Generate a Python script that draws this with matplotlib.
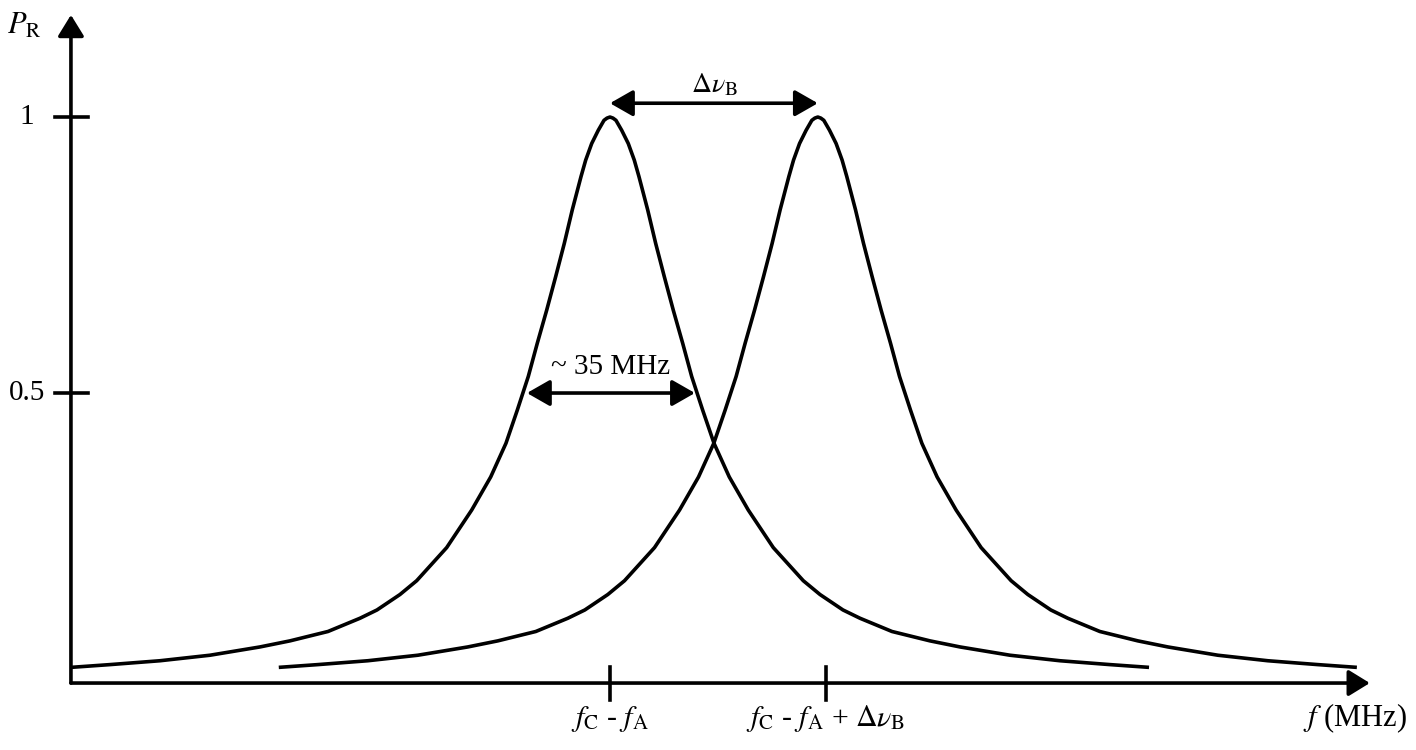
import matplotlib
matplotlib.use('Agg')
import matplotlib.pyplot as plt
import numpy as np

# Half of the (symmetric) gain profile, offset in MHz from the peak
profile_offset = [0.0, 0.63, 1.25, 2.44, 3.81, 5.06, 6.04, 7.85, 9.52, 11.31, 13.19,
                  15.15, 17.02, 19.31, 21.67, 24.85, 28.81, 34.02, 40.27, 43.75, 48.54,
                  52.08, 58.75, 66.67, 72.92, 83.33, 93.75, 104.17, 112.3]
profile_power = [1.0, 0.998, 0.994, 0.976, 0.952, 0.922, 0.892, 0.832, 0.771, 0.711, 0.650,
                 0.590, 0.530, 0.469, 0.409, 0.348, 0.288, 0.220, 0.160, 0.135, 0.107,
                 0.092, 0.068, 0.051, 0.040, 0.025, 0.015, 0.008, 0.003]

peak_centers = [0.0, 43.3]          # f_C - f_A and f_C - f_A + dnu_B
x_tick_pos = [0.0, 45.0]
x_tick_labels = [r'$f_\mathrm{C}$ - $f_\mathrm{A}$',
                 r'$f_\mathrm{C}$ - $f_\mathrm{A}$ + $\Delta\nu_\mathrm{B}$']
y_tick_pos = [1.0, 0.5]
y_tick_labels = ['1', '0.5']
fwhm_mhz = 35.0

plt.rcParams['mathtext.fontset'] = 'stix'
plt.rcParams['font.family'] = ['Liberation Serif', 'DejaVu Serif']

fig = plt.figure(figsize=(14.16, 7.5), dpi=100)
ax = fig.add_axes([0, 0, 1, 1])
ax.set_xlim(-127.08, 167.92)
ax.set_ylim(-0.1467, 1.212)
ax.axis('off')

lw = 2.6
x_left, x_right = -112.3, 158.3
y_bottom, y_top = -0.0254, 1.185

# axes with arrow heads
head = '-|>,head_length=0.65,head_width=0.4'
ax.annotate('', xy=(x_right, y_bottom), xytext=(x_left, y_bottom),
            arrowprops=dict(arrowstyle=head, mutation_scale=20, lw=lw, color='black',
                            shrinkA=0, shrinkB=0))
ax.annotate('', xy=(x_left, y_top), xytext=(x_left, y_bottom),
            arrowprops=dict(arrowstyle=head, mutation_scale=20, lw=lw, color='black',
                            shrinkA=0, shrinkB=0))

# the two spectra
off = np.array(profile_offset)
pw = np.array(profile_power)
full_off = np.concatenate([-off[::-1], off[1:]])
full_pw = np.concatenate([pw[::-1], pw[1:]])
for c in peak_centers:
    ax.plot(c + full_off, full_pw, color='black', lw=lw, solid_capstyle='butt',
            solid_joinstyle='round')

# ticks
for y, lab in zip(y_tick_pos, y_tick_labels):
    ax.plot([x_left - 3.4, x_left + 3.5], [y, y], color='black', lw=lw)
    ax.text(-121.5, y, lab, fontsize=21, ha='center', va='center')
for x, lab in zip(x_tick_pos, x_tick_labels):
    ax.plot([x, x], [0.004, -0.056], color='black', lw=lw)
    ax.text(x, -0.09, lab, fontsize=21.5, ha='center', va='center')

ax.text(-122.0, 1.165, r'$P_\mathrm{R}$', fontsize=22, ha='center', va='center')
ax.text(155.3, -0.09, r'$f$ (MHz)', fontsize=22, ha='center', va='center')

# annotations
dbl = '<|-|>,head_length=0.7,head_width=0.4'
ax.annotate('', xy=(peak_centers[1], 1.025), xytext=(peak_centers[0], 1.025),
            arrowprops=dict(arrowstyle=dbl, mutation_scale=20, lw=lw, color='black',
                            shrinkA=0, shrinkB=0))
ax.text(sum(peak_centers) / 2, 1.058, r'$\Delta\nu_\mathrm{B}$', fontsize=20,
        ha='center', va='center')

ax.annotate('', xy=(fwhm_mhz / 2 + 0.2, 0.5), xytext=(-fwhm_mhz / 2 + 0.2, 0.5),
            arrowprops=dict(arrowstyle=dbl, mutation_scale=20, lw=lw, color='black',
                            shrinkA=0, shrinkB=0))
ax.text(0.2, 0.548, '~ 35 MHz', fontsize=21, ha='center', va='center')

fig.savefig('out.png', dpi=100)
